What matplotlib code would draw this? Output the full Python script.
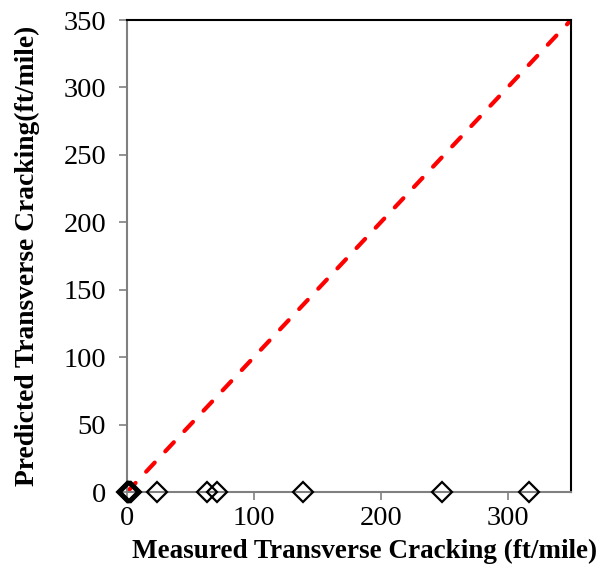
import matplotlib.pyplot as plt
import numpy as np

plt.rcParams['font.family'] = ['Liberation Serif', 'DejaVu Serif']

# measured vs predicted transverse cracking (ft/mile)
measured = [0, 0.5, 1, 1.5, 2, 3, 23.4, 63, 70.6, 138.6, 248.6, 316.5]
predicted = [0, 0, 0, 0, 0, 0, 0, 0, 0, 0, 0, 0]
line_of_equality = [0, 350]
ticks = [0, 50, 100, 150, 200, 250, 300, 350]
xticks = [0, 100, 200, 300]

fig = plt.figure(figsize=(6, 5.69), dpi=100)
ax = fig.add_axes([0.2117, 0.1353, 0.74, 0.8295])

ax.plot(line_of_equality, line_of_equality, color='#ff0000', lw=3, ls=(0, (3.0, 3.7)),
        dash_capstyle='round', zorder=2)
ax.plot(measured, predicted, ls='none', marker='D', ms=10.5, mfc='none', mec='black', mew=1.6,
        clip_on=False, zorder=3)

ax.set_xlim(0, 350)
ax.set_ylim(0, 350)
ax.set_xticks(xticks)
ax.set_yticks(ticks)
ax.tick_params(axis='both', direction='out', length=6, width=1.2, color='#808080',
               labelsize=20.5)
ax.tick_params(axis='y', pad=9)
ax.tick_params(axis='x', pad=4)

for side in ['left', 'bottom']:
    ax.spines[side].set_color('#808080')
    ax.spines[side].set_linewidth(1.5)
for side in ['top', 'right']:
    ax.spines[side].set_color('black')
    ax.spines[side].set_linewidth(1.5)

ax.set_xlabel('Measured Transverse Cracking (ft/mile)', fontsize=19.5, fontweight='bold')
ax.set_ylabel('Predicted Transverse Cracking(ft/mile)', fontsize=19.8, fontweight='bold')
ax.xaxis.set_label_coords(0.536, -0.1)
ax.yaxis.set_label_coords(-0.196, 0.5)

plt.savefig('out.png', dpi=100)
